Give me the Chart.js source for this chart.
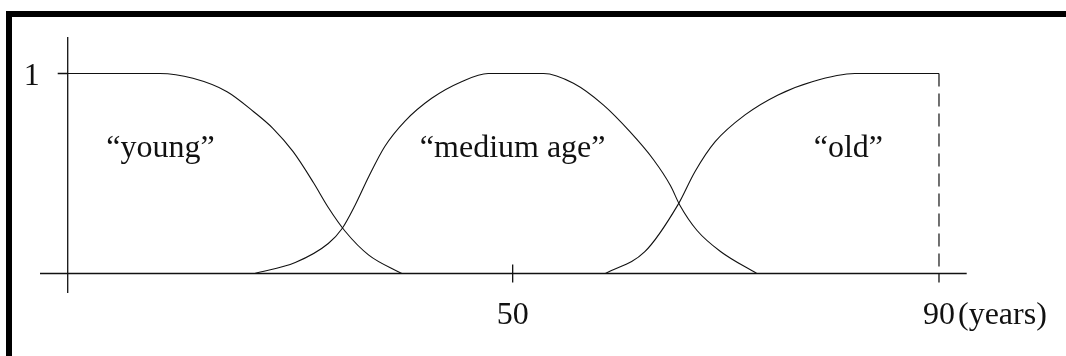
<!DOCTYPE html>
<html>
<head>
<meta charset="utf-8">
<script src="https://cdn.jsdelivr.net/npm/chart.js@4/dist/chart.umd.min.js"></script>
<style>
  html, body { margin: 0; padding: 0; background: #fff; }
  #wrap { position: relative; width: 1066px; height: 356px; overflow: hidden; }
  #frame {
    position: absolute; left: 6px; top: 11px; width: 1060px; height: 345px;
    border-top: 6px solid #000; border-left: 6px solid #000; box-sizing: border-box;
    pointer-events: none;
  }
  canvas { position: absolute; left: 0; top: 0; }
</style>
</head>
<body>
<div id="wrap">
  <canvas id="c" width="1066" height="356"></canvas>
  <div id="frame"></div>
</div>
<script>
// Membership grades (0..1) against age in years for three fuzzy sets.
const youngAge    = [8.25, 16.9, 20.0, 23.2, 25.7, 27.5, 29.4, 31.3, 32.7, 34.3, 36.5, 39.6];
const youngGrade  = [1, 1, 0.976, 0.909, 0.809, 0.726, 0.609, 0.455, 0.33, 0.21, 0.092, 0];

const mediumAge   = [25.8, 29.6, 32.7, 34.0, 35.2, 36.5, 38.0, 39.9, 42.4, 45.2, 47.7,
                     52.9, 55.7, 58.5, 61.0, 63.2, 64.8, 65.7, 67.3, 69.5, 72.9];
const mediumGrade = [0, 0.055, 0.15, 0.225, 0.34, 0.485, 0.635, 0.762, 0.876, 0.959, 1,
                     1, 0.951, 0.843, 0.709, 0.57, 0.44, 0.34, 0.215, 0.11, 0];

const oldAge      = [58.7, 62.4, 65.5, 67.1, 69.0, 71.8, 74.9, 78.1, 82.1, 90];
const oldGrade    = [0, 0.109, 0.343, 0.509, 0.659, 0.793, 0.893, 0.959, 1, 1];

// Upper end of the age range, marked by a dashed drop line.
const maxAge = 90;

// Axis ticks and their labels.
const xTicks      = [50, 90];
const xTickLabels = ['50', '90'];
const xUnit       = '(years)';
const yTicks      = [1];
const yTickLabels = ['1'];

// Set names and where they sit (age, grade at text baseline).
const setNames   = ['\u201Cyoung\u201D', '\u201Cmedium age\u201D', '\u201Cold\u201D'];
const nameAge    = [16.96, 50, 81.5];
const nameGrade  = [0.5825, 0.5825, 0.5825];

// Axis extents and where the vertical axis crosses.
const axisAge = 8.25;
const xMin = 5.65, xMax = 92.6;
const yMin = -0.0975, yMax = 1.1825;

const toPoints = (xs, ys) => xs.map((x, i) => ({ x: x, y: ys[i] }));

const INK = '#111';
const FONT = '32px "Liberation Serif", "Times New Roman", serif';

const curveStyle = {
  showLine: true, pointRadius: 0, borderColor: INK, borderWidth: 1.1,
  cubicInterpolationMode: 'monotone', fill: false
};

const axesPlugin = {
  id: 'fuzzyAxes',
  afterDatasetsDraw(chart) {
    const { ctx, chartArea: a, scales: { x, y } } = chart;
    const x0 = x.getPixelForValue(axisAge);
    const y0 = y.getPixelForValue(0);
    ctx.save();
    ctx.strokeStyle = INK;
    ctx.lineWidth = 1.3;
    ctx.beginPath();
    // horizontal axis
    ctx.moveTo(a.left, y0); ctx.lineTo(a.right, y0);
    // vertical axis
    ctx.moveTo(x0, a.top); ctx.lineTo(x0, a.bottom);
    // x ticks (the end of the range only gets the lower half)
    xTicks.forEach(v => {
      const px = x.getPixelForValue(v);
      const up = (v === maxAge) ? 0 : 9;
      ctx.moveTo(px, y0 - up); ctx.lineTo(px, y0 + 9);
    });
    // y ticks
    yTicks.forEach(v => {
      const py = y.getPixelForValue(v);
      ctx.moveTo(x0 - 10, py); ctx.lineTo(x0, py);
    });
    ctx.stroke();

    ctx.fillStyle = INK;
    ctx.font = FONT;
    ctx.textBaseline = 'alphabetic';
    // x tick labels, with the unit after the last one
    xTicks.forEach((v, i) => {
      const px = x.getPixelForValue(v);
      ctx.textAlign = 'center';
      ctx.fillText(xTickLabels[i], px, y0 + 50);
      if (i === xTicks.length - 1) {
        const w = ctx.measureText(xTickLabels[i]).width;
        ctx.textAlign = 'left';
        ctx.fillText(xUnit, px + w / 2 + 3, y0 + 50);
      }
    });
    // y tick labels
    yTicks.forEach((v, i) => {
      const py = y.getPixelForValue(v);
      ctx.textAlign = 'right';
      ctx.fillText(yTickLabels[i], x0 - 28, py + 11.5);
    });
    // set names
    ctx.textAlign = 'center';
    setNames.forEach((t, i) => {
      ctx.fillText(t, x.getPixelForValue(nameAge[i]), y.getPixelForValue(nameGrade[i]));
    });
    ctx.restore();
  }
};

new Chart(document.getElementById('c'), {
  type: 'scatter',
  data: {
    datasets: [
      Object.assign({ label: 'young',  data: toPoints(youngAge, youngGrade) }, curveStyle),
      Object.assign({ label: 'medium', data: toPoints(mediumAge, mediumGrade) }, curveStyle),
      Object.assign({ label: 'old',    data: toPoints(oldAge, oldGrade) }, curveStyle),
      {
        label: 'limit', data: [{ x: maxAge, y: 1 }, { x: maxAge, y: 0 }],
        showLine: true, pointRadius: 0, borderColor: INK, borderWidth: 1.2,
        borderDash: [13, 7], fill: false
      }
    ]
  },
  options: {
    responsive: false,
    animation: false,
    devicePixelRatio: 1,
    layout: { padding: { left: 40, right: 99.3, top: 37, bottom: 63 } },
    plugins: { legend: { display: false }, tooltip: { enabled: false } },
    scales: {
      x: { type: 'linear', min: xMin, max: xMax, display: false },
      y: { type: 'linear', min: yMin, max: yMax, display: false }
    }
  },
  plugins: [axesPlugin]
});
</script>
</body>
</html>
